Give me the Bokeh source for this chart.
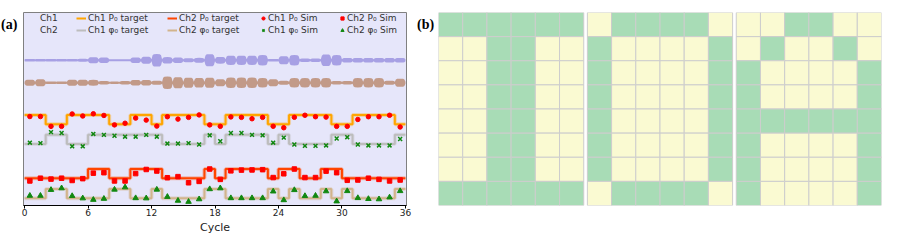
import numpy as np
from bokeh.plotting import figure
from bokeh.models import Range1d, Legend, LegendItem, FixedTicker, ColumnDataSource
from bokeh.core.properties import value
from bokeh.layouts import row
from bokeh.embed import file_html
from bokeh.resources import INLINE

# ---------------- data ----------------
n_cycles = 36
cycle_ticks = [0, 6, 12, 18, 24, 30, 36]

# binary targets per cycle (0 = low level, 1 = high level)
ch1_p0_target = [1, 1, 0, 0, 1, 1, 1, 1, 0, 0, 1, 1, 0, 1, 1, 1, 1, 0,
                 0, 1, 1, 1, 1, 0, 0, 1, 1, 1, 1, 0, 0, 1, 1, 1, 1, 0]
ch1_phi0_target = [0, 0, 1, 1, 0, 0, 1, 1, 1, 1, 1, 1, 1, 0, 0, 0, 0, 1,
                   0, 1, 1, 1, 1, 0, 1, 0, 0, 0, 0, 1, 1, 0, 0, 0, 0, 1]
ch2_p0_target = [0, 0, 0, 0, 0, 0, 1, 1, 0, 0, 1, 1, 1, 0, 0, 0, 0, 1,
                 0, 1, 1, 1, 1, 0, 1, 1, 0, 0, 1, 1, 0, 0, 0, 0, 0, 0]
ch2_phi0_target = [0, 0, 1, 1, 0, 0, 0, 0, 1, 1, 0, 0, 1, 0, 0, 0, 0, 1,
                   1, 0, 0, 0, 0, 1, 0, 1, 0, 0, 1, 0, 1, 0, 0, 0, 0, 1]

# simulated values per cycle (same normalised units as the targets)
ch1_p0_sim = [0.84, 0.84, -0.23, -0.23, 1.12, 0.90, 1.14, 0.96, -0.07, 0.11, 0.67, 0.45,
              -0.20, 0.82, 0.56, 0.75, 1.02, -0.07, -0.23, 0.80, 0.75, 0.60, 0.75, -0.22,
              -0.38, 0.76, 0.98, 0.82, 0.78, -0.23, -0.23, 0.52, 0.82, 0.82, 0.98, -0.30]
ch1_phi0_sim = [0.15, 0.10, 1.30, 1.20, -0.25, -0.25, 1.10, 1.00, 0.90, 0.80, 0.80, 1.00,
                0.80, 0.05, 0.05, 0.10, -0.05, 0.95, 0.30, 1.20, 1.20, 1.00, 0.95, 0.15,
                0.70, -0.05, -0.20, -0.20, -0.15, 0.60, 0.75, -0.05, -0.15, -0.15, -0.15, 0.55]
ch2_p0_sim = [-0.30, 0.00, -0.10, 0.00, -0.25, -0.05, 0.55, 0.60, -0.30, -0.30, 0.50, 0.95,
              0.78, 0.05, 0.17, -0.50, -0.35, 1.00, -0.13, 0.80, 0.88, 0.90, 0.93, 0.07,
              0.48, 1.00, 0.07, 0.07, 0.77, 0.60, -0.23, -0.20, 0.00, -0.13, -0.30, -0.20]
ch2_phi0_sim = [0.28, 0.28, 0.92, 1.10, 0.25, 0.00, -0.16, -0.05, 0.95, 1.20, 0.02, 0.00,
                0.95, 0.16, -0.26, -0.38, -0.10, 1.00, 1.10, 0.02, 0.02, 0.02, 0.02, 0.75,
                -0.20, 0.90, 0.25, 0.28, 0.77, -0.33, 0.79, 0.03, -0.07, -0.10, 0.10, 0.79]

# burst envelope half-amplitude of the drive waveforms per cycle
ch1_wave_amp = [1.3, 1.3, 1.3, 1.3, 1.3, 1.5, 3.2, 2.8, 1.1, 1.1, 2.8, 3.6,
                6.5, 3.3, 2.8, 2.1, 2.5, 6.3, 3.5, 4.8, 4.8, 4.8, 5.4, 1.4,
                4.2, 5.4, 1.8, 1.8, 6.0, 5.4, 2.4, 2.4, 2.4, 2.4, 2.4, 2.4]
ch2_wave_amp = [3.2, 3.6, 1.4, 1.4, 3.2, 3.2, 3.0, 1.8, 1.2, 1.8, 2.8, 2.8,
                2.0, 6.5, 5.8, 5.3, 5.0, 5.3, 3.6, 5.4, 5.4, 5.4, 4.8, 3.6,
                2.1, 4.8, 4.8, 4.8, 4.8, 1.8, 1.8, 4.8, 4.8, 4.8, 2.1, 4.2]

# panel (b) pixel letters (1 = green cell)
letter_I = [[1, 1, 1, 1, 1, 1],
            [0, 0, 1, 1, 0, 0],
            [0, 0, 1, 1, 0, 0],
            [0, 0, 1, 1, 0, 0],
            [0, 0, 1, 1, 0, 0],
            [0, 0, 1, 1, 0, 0],
            [0, 0, 1, 1, 0, 0],
            [1, 1, 1, 1, 1, 1]]
letter_O = [[0, 1, 1, 1, 1, 0],
            [1, 0, 0, 0, 0, 1],
            [1, 0, 0, 0, 0, 1],
            [1, 0, 0, 0, 0, 1],
            [1, 0, 0, 0, 0, 1],
            [1, 0, 0, 0, 0, 1],
            [1, 0, 0, 0, 0, 1],
            [0, 1, 1, 1, 1, 0]]
letter_A = [[0, 0, 1, 1, 0, 0],
            [0, 1, 0, 0, 1, 0],
            [1, 0, 0, 0, 0, 1],
            [1, 0, 0, 0, 0, 1],
            [1, 1, 1, 1, 1, 1],
            [1, 0, 0, 0, 0, 1],
            [1, 0, 0, 0, 0, 1],
            [1, 0, 0, 0, 0, 1]]

panel_labels = ["(a)", "(b)"]

# ---------------- layout / style constants ----------------
STEP_H = 9.5
BASE = {"ch1_p0": 84.2, "ch1_phi0": 63.7, "ch2_p0": 28.3, "ch2_phi0": 7.5}
WAVE_CENTER = {"ch1": 150.5, "ch2": 127.2}
FONT = "DejaVu Sans"
H = 240


def no_title(f):
    if f.title is not None:
        f.title.text_font_size = "0px"
        f.title.standoff = 0
        f.title.offset = 0
        f.title.visible = False
    return f


def label_fig(text, width):
    # a narrow strip whose data units equal pixels (y measured from the bottom)
    f = figure(title_location=None, width=width, height=H, x_range=Range1d(0, width),
               y_range=Range1d(0, H), x_axis_location=None, y_axis_location=None,
               toolbar_location=None, output_backend="svg", min_border_left=0,
               min_border_right=0, min_border_top=0, min_border_bottom=0)
    no_title(f)
    f.outline_line_color = None
    f.xgrid.visible = False
    f.ygrid.visible = False
    f.background_fill_color = "white"
    f.border_fill_color = "white"
    f.text(x=[0.5], y=[H - 15], text=[text], text_font=value("Liberation Serif"),
           text_font_style="bold", text_font_size="14px", text_baseline="alphabetic",
           text_align="left", text_color="black")
    return f


fa_lab = label_fig(panel_labels[0], 21)
fb_lab = label_fig(panel_labels[1], 22)

pa = figure(title_location=None, width=395, height=H, x_range=Range1d(-0.1, 36.1),
            y_range=Range1d(0, 200), y_axis_location=None, toolbar_location=None,
            output_backend="svg", min_border_left=2, min_border_right=10,
            min_border_top=6, min_border_bottom=34)
no_title(pa)
pa.background_fill_color = "#e6e6fa"
pa.border_fill_color = "white"
pa.outline_line_color = "#808080"
pa.outline_line_width = 1
pa.xgrid.visible = False
pa.ygrid.visible = False

ax = pa.xaxis[0]
ax.ticker = FixedTicker(ticks=cycle_ticks, minor_ticks=[])
ax.axis_label = "Cycle"
ax.axis_label_text_font = FONT
ax.axis_label_text_font_size = "11px"
ax.axis_label_text_font_style = "normal"
ax.axis_label_text_color = "#222222"
ax.axis_label_standoff = 2
ax.major_label_text_font = FONT
ax.major_label_text_font_size = "9px"
ax.major_label_text_color = "#222222"
ax.major_label_standoff = 0
ax.major_tick_in = 0
ax.major_tick_out = 3
ax.minor_tick_in = 0
ax.minor_tick_out = 0
ax.axis_line_color = "black"
ax.major_tick_line_color = "black"

# waveform bursts
shape_off = [0.0, 0.1, 0.22, 0.5, 0.78, 0.9]
shape_w = [0.0, 0.75, 0.97, 1.0, 0.97, 0.75]


def envelope(amps, base=1.0):
    xs, hs = [], []
    for i, a in enumerate(amps):
        for o, w in zip(shape_off, shape_w):
            xs.append(i + o)
            hs.append(base + (a - base) * w)
    xs.append(len(amps))
    hs.append(base)
    return np.array(xs), np.array(hs)


for amps, key, col in [(ch1_wave_amp, "ch1", "#a7a0e4"), (ch2_wave_amp, "ch2", "#c29a88")]:
    xs, hs = envelope(amps)
    c = WAVE_CENTER[key]
    pa.varea(x=xs, y1=c - hs, y2=c + hs, fill_color=col)

edges = np.arange(n_cycles + 1)
centers = np.arange(n_cycles) + 0.5


def step_y(target, key):
    v = np.array(target + [target[-1]], dtype=float)
    return BASE[key] + STEP_H * v


def sim_y(sim, key):
    return BASE[key] + STEP_H * np.array(sim)


target_specs = [(ch1_p0_target, "ch1_p0", "#ffa500"),
                (ch1_phi0_target, "ch1_phi0", "#bdbdbd"),
                (ch2_p0_target, "ch2_p0", "#ff4500"),
                (ch2_phi0_target, "ch2_phi0", "#d2b48c")]
target_r = {}
for tgt, key, col in target_specs:
    y = step_y(tgt, key)
    pa.step(x=edges, y=y, mode="after", line_color=col, line_width=4, line_alpha=0.3)
    target_r[key] = pa.step(x=edges, y=y, mode="after", line_color=col, line_width=2)

sim_r = {}
sim_r["ch1_p0"] = pa.scatter(x=centers, y=sim_y(ch1_p0_sim, "ch1_p0"), marker="circle",
                             size=4.5, fill_color="#ff0000", line_color="#ff0000")
sim_r["ch1_phi0"] = pa.scatter(x=centers, y=sim_y(ch1_phi0_sim, "ch1_phi0"), marker="x",
                               size=5.5, line_color="#118811", line_width=1.5)
sim_r["ch2_p0"] = pa.scatter(x=centers, y=sim_y(ch2_p0_sim, "ch2_p0"), marker="square",
                             size=4.5, fill_color="#ff0000", line_color="#ff0000")
sim_r["ch2_phi0"] = pa.scatter(x=centers, y=sim_y(ch2_phi0_sim, "ch2_phi0"), marker="triangle",
                               size=5.5, fill_color="#118811", line_color="#118811")

# legend handles for waveforms
ch1_handle = pa.line(x=[], y=[], line_color="#d6ccd6", line_width=2)
ch2_handle = pa.line(x=[], y=[], line_color="#c8c6f0", line_width=2)

LEG_Y = 169
columns = [
    (5, 10, 2, [("Ch1", ch1_handle), ("Ch2", ch2_handle)]),
    (53, 10, 2, [("Ch1 P\u2080 target", target_r["ch1_p0"]), ("Ch1 \u03c6\u2080 target", target_r["ch1_phi0"])]),
    (144, 10, 2, [("Ch2 P\u2080 target", target_r["ch2_p0"]), ("Ch2 \u03c6\u2080 target", target_r["ch2_phi0"])]),
    (236, 8, 1, [("Ch1 P\u2080 Sim", sim_r["ch1_p0"]), ("Ch1 \u03c6\u2080 Sim", sim_r["ch1_phi0"])]),
    (315, 8, 1, [("Ch2 P\u2080 Sim", sim_r["ch2_p0"]), ("Ch2 \u03c6\u2080 Sim", sim_r["ch2_phi0"])]),
]
for x0, gw, so, items in columns:
    lg = Legend(items=[LegendItem(label=t, renderers=[r]) for t, r in items],
                location=(x0, LEG_Y), orientation="vertical",
                glyph_width=gw, glyph_height=12, label_height=12, label_standoff=so,
                spacing=0, padding=0, margin=0, border_line_alpha=0,
                background_fill_alpha=0, label_text_font=FONT,
                label_text_font_size="9px", label_text_color="#333333")
    pa.add_layout(lg)

# ---------------- panel (b) ----------------
pb = figure(title_location=None, width=462, height=H, x_range=Range1d(0, 18.3),
            y_range=Range1d(8, 0), x_axis_location=None, y_axis_location=None,
            toolbar_location=None, output_backend="svg", min_border_left=0,
            min_border_right=19, min_border_top=12, min_border_bottom=35)
no_title(pb)
pb.outline_line_color = None
pb.xgrid.visible = False
pb.ygrid.visible = False
pb.background_fill_color = "white"
pb.border_fill_color = "white"

GRID_SHIFT = 6.15
cx, cy, colors = [], [], []
for g, letter in enumerate([letter_I, letter_O, letter_A]):
    for r, line in enumerate(letter):
        for c, val in enumerate(line):
            cx.append(g * GRID_SHIFT + c + 0.5)
            cy.append(r + 0.5)
            colors.append("#a8dcb6" if val else "#fafad2")
src = ColumnDataSource(dict(x=cx, y=cy, color=colors))
pb.rect(x="x", y="y", width=1, height=1, source=src, fill_color="color",
        line_color="#cdcdcd", line_width=1)

layout = row(fa_lab, pa, fb_lab, pb)
open("out.html", "w").write(file_html(layout, INLINE))
